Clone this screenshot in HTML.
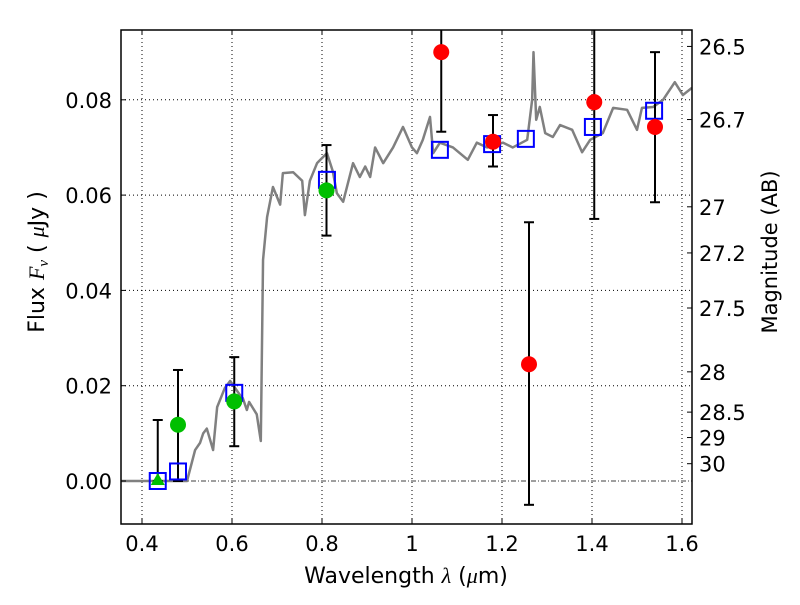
<!DOCTYPE html>
<html><head><meta charset="utf-8"><style>
body{margin:0;background:#fff}
svg text{font-family:"DejaVu Sans","Liberation Sans",sans-serif;fill:#000}
</style></head><body>
<svg id="c" width="800" height="600" xmlns="http://www.w3.org/2000/svg"></svg>
<script>
const specWave=[0.35,0.49,0.50,0.518,0.529,0.536,0.544,0.558,0.567,0.584,0.596,0.618,0.624,0.629,0.633,0.638,0.655,0.664,0.669,0.678,0.691,0.707,0.713,0.736,0.756,0.762,0.773,0.789,0.811,0.824,0.833,0.847,0.869,0.884,0.896,0.907,0.918,0.936,0.958,0.98,1.0,1.011,1.024,1.04,1.047,1.062,1.091,1.124,1.144,1.167,1.202,1.224,1.256,1.267,1.27,1.276,1.284,1.296,1.313,1.329,1.356,1.378,1.396,1.424,1.447,1.478,1.5,1.511,1.536,1.558,1.584,1.602,1.622];
const specFlux=[0,0,0,0.0065,0.008,0.010,0.011,0.0065,0.0155,0.0195,0.021,0.018,0.0174,0.016,0.0149,0.0166,0.014,0.0084,0.0464,0.0554,0.0617,0.058,0.0646,0.0648,0.063,0.0558,0.063,0.0667,0.0688,0.065,0.0604,0.0586,0.0667,0.0638,0.066,0.0638,0.070,0.0667,0.070,0.0743,0.070,0.0688,0.0716,0.0764,0.0688,0.071,0.070,0.0674,0.071,0.070,0.071,0.070,0.0716,0.080,0.090,0.0758,0.0785,0.073,0.0722,0.0747,0.0737,0.069,0.0716,0.073,0.0783,0.0779,0.0737,0.0783,0.0785,0.080,0.0837,0.081,0.0825];
const modelWave=[0.435,0.48,0.605,0.811,1.062,1.178,1.253,1.402,1.538];
const modelFlux=[0,0.002,0.0185,0.0632,0.0695,0.0707,0.0718,0.0743,0.0777];
const greenWave=[0.48,0.605,0.81];
const greenFlux=[0.0118,0.0167,0.061];
const greenLo=[0.0,0.0073,0.0515];
const greenHi=[0.0233,0.026,0.0705];
const triWave=[0.435];const triFlux=[0];const triLo=[0];const triHi=[0.0128];
const redWave=[1.065,1.18,1.26,1.405,1.54];
const redFlux=[0.090,0.0712,0.0245,0.0795,0.0743];
const redLo=[0.0733,0.066,-0.005,0.055,0.0585];
const redHi=[0.11,0.0768,0.0543,0.11,0.090];
const xTicks=[0.4,0.6,0.8,1.0,1.2,1.4,1.6];
const xTickLabels=["0.4","0.6","0.8","1","1.2","1.4","1.6"];
const yTicks=[0,0.02,0.04,0.06,0.08];
const yTickLabels=["0.00","0.02","0.04","0.06","0.08"];
const magTicks=[26.5,26.7,27,27.2,27.5,28,28.5,29,30];
const magLabels=["26.5","26.7","27","27.2","27.5","28","28.5","29","30"];

const L=121,R=692,T=30,B=524;
const x=v=>142+(v-0.4)*450;
const y=v=>481-v*4765;
const NS="http://www.w3.org/2000/svg";
const svg=document.getElementById('c');
function mk(tag,a,parent){const e=document.createElementNS(NS,tag);for(const k in a)e.setAttribute(k,a[k]);(parent||svg).appendChild(e);return e;}
const defs=mk('defs',{});const cp=mk('clipPath',{id:'pc'},defs);mk('rect',{x:L,y:T,width:R-L,height:B-T},cp);
const plot=mk('g',{'clip-path':'url(#pc)'});


xTicks.forEach((t,i)=>{
 const g=mk('line',{x1:x(t),x2:x(t),y1:T,y2:B,stroke:'#000','stroke-width':1,'stroke-dasharray':'1,3'},plot);
 
 
 mk('line',{x1:x(t),x2:x(t),y1:B,y2:B-5,stroke:'#000'});
 mk('line',{x1:x(t),x2:x(t),y1:T,y2:T+5,stroke:'#000'});
 const tx=mk('text',{x:x(t),y:B+27,'text-anchor':'middle','font-size':21});tx.textContent=xTickLabels[i];
 
 
});
yTicks.forEach((t,i)=>{
 if(t>0){const g=mk('line',{x1:L,x2:R,y1:y(t),y2:y(t),stroke:'#000','stroke-width':1,'stroke-dasharray':'1,3'},plot);
 
 }
 mk('line',{x1:L,x2:L+5,y1:y(t),y2:y(t),stroke:'#000'});
 const tx=mk('text',{x:L-9,y:y(t)+8,'text-anchor':'end','font-size':21});tx.textContent=yTickLabels[i];
 
 
});
const zl=mk('line',{x1:L,x2:R,y1:y(0),y2:y(0),stroke:'#000','stroke-width':0.8,'stroke-dasharray':'5,2,1,2'},plot);


const sp=mk('polyline',{points:specWave.map((w,i)=>x(w)+','+y(specFlux[i])).join(' '),fill:'none',stroke:'#808080','stroke-width':2.5,'stroke-linejoin':'round'},plot);


function err(w,lo,hi){
 const g=mk('g',{},plot);
 
 
 mk('line',{x1:x(w),x2:x(w),y1:y(lo),y2:y(hi),stroke:'#000','stroke-width':2},g);
 [lo,hi].forEach(v=>mk('line',{x1:x(w)-5,x2:x(w)+5,y1:y(v),y2:y(v),stroke:'#000','stroke-width':2},g));
}
triWave.forEach((w,i)=>err(w,triLo[i],triHi[i]));
greenWave.forEach((w,i)=>err(w,greenLo[i],greenHi[i]));
redWave.forEach((w,i)=>err(w,redLo[i],redHi[i]));
modelWave.forEach((w,i)=>{const r=mk('rect',{x:x(w)-8,y:y(modelFlux[i])-8,width:16,height:16,fill:'none',stroke:'#0000ff','stroke-width':2},plot);
 
 });
triWave.forEach((w,i)=>{const cx=x(w),cy=y(triFlux[i]);const p=mk('polygon',{points:`${cx},${cy-8} ${cx-7},${cy+4} ${cx+7},${cy+4}`,fill:'#00bf00'},plot);
 
 });
greenWave.forEach((w,i)=>{const c=mk('circle',{cx:x(w),cy:y(greenFlux[i]),r:8,fill:'#00bf00'},plot);
 
 });
redWave.forEach((w,i)=>{const c=mk('circle',{cx:x(w),cy:y(redFlux[i]),r:8,fill:'#ff0000'},plot);
 
 });
magTicks.forEach((m,i)=>{const f=Math.pow(10,(23.9-m)/2.5);const yy=y(f);
 mk('line',{x1:R-5,x2:R,y1:yy,y2:yy,stroke:'#000'});
 const tx=mk('text',{x:R+7,y:yy+8,'font-size':21});tx.textContent=magLabels[i];
 
 });
const fr=mk('rect',{x:L,y:T,width:R-L,height:B-T,fill:'none',stroke:'#000','stroke-width':1.5});


const xl=mk('text',{x:406,y:583,'text-anchor':'middle','font-size':22,'xml:space':'preserve'});xl.innerHTML='Wavelength  <tspan font-style="italic" font-family="Liberation Serif">λ</tspan> (<tspan font-style="italic" font-family="Liberation Serif">μ</tspan>m)';


const yl=mk('text',{x:0,y:0,'text-anchor':'middle','font-size':22,'xml:space':'preserve',transform:'translate(44,262) rotate(-90)'});yl.innerHTML='Flux  <tspan font-style="italic" font-family="Liberation Serif">F</tspan><tspan font-style="italic" font-family="Liberation Serif" font-size="15" dy="4">ν</tspan><tspan dy="-4">  (  </tspan><tspan font-style="italic" font-family="Liberation Serif">μ</tspan>Jy )';


const ml=mk('text',{x:0,y:0,'text-anchor':'middle','font-size':21,transform:'translate(777,252) rotate(-90)'});ml.textContent='Magnitude (AB)';


</script>
</body></html>
